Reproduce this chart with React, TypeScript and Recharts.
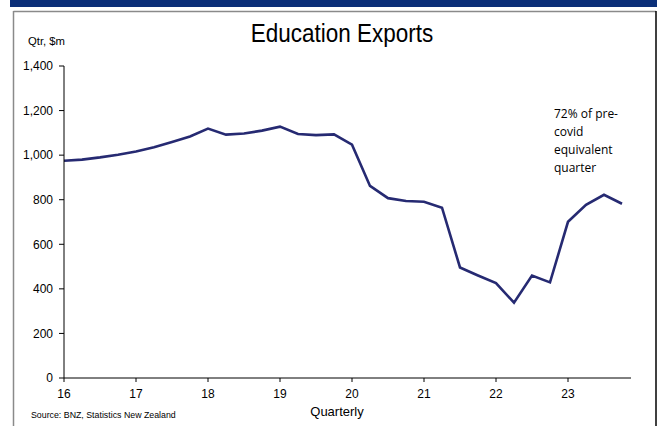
import React from "react";
import { LineChart, Line, XAxis, YAxis } from "recharts";

// quarterly education exports, $m
const periods = [
  "16Q1", "16Q2", "16Q3", "16Q4",
  "17Q1", "17Q2", "17Q3", "17Q4",
  "18Q1", "18Q2", "18Q3", "18Q4",
  "19Q1", "19Q2", "19Q3", "19Q4",
  "20Q1", "20Q2", "20Q3", "20Q4",
  "21Q1", "21Q2", "21Q3", "21Q4",
  "22Q1", "22Q2", "22Q3", "22Q4",
  "23Q1", "23Q2", "23Q3", "23Q4",
];
const exportsValue = [
  975, 980, 990, 1002,
  1016, 1035, 1059, 1084,
  1119, 1092, 1097, 1110,
  1128, 1095, 1090, 1093,
  1047, 862, 807, 794,
  791, 764, 496, 460,
  426, 338, 460, 429,
  701, 777, 822, 782,
];
const yearTicks = [16, 17, 18, 19, 20, 21, 22, 23];
const valueTicks = [0, 200, 400, 600, 800, 1000, 1200, 1400];
const noteLines = ["72% of pre-", "covid", "equivalent", "quarter"];

const data = periods.map((p, i) => ({
  x: Number(p.slice(0, 2)) + (Number(p.slice(3)) - 1) / 4,
  v: exportsValue[i],
}));

const FONT = "'Liberation Sans', Arial, sans-serif";
const LINE = "#262a72";

export default function App() {
  return (
    <div style={{ position: "absolute", left: 0, top: 0, width: 657, height: 426, background: "#fff", fontFamily: FONT }}>
      <LineChart width={657} height={426} data={data} margin={{ top: 66, right: 26, bottom: 18, left: 0 }}>
        <XAxis
          dataKey="x"
          type="number"
          domain={[16, 23.875]}
          ticks={yearTicks}
          allowDataOverflow
          height={30}
          tickSize={4}
          tickMargin={7}
          stroke="#000"
          tick={{ fill: "#000", fontSize: 12, fontFamily: FONT }}
        />
        <YAxis
          domain={[0, 1400]}
          ticks={valueTicks}
          width={64}
          tickSize={5}
          tickMargin={6}
          stroke="#000"
          tick={{ fill: "#000", fontSize: 12, fontFamily: FONT }}
          tickFormatter={(v: number) => v.toLocaleString("en-US")}
        />
        <Line type="linear" dataKey="v" stroke={LINE} strokeWidth={2.6} dot={false} isAnimationActive={false} />
      </LineChart>

      <svg width={657} height={426} style={{ position: "absolute", left: 0, top: 0, pointerEvents: "none" }}>
        <rect x={10} y={0} width={647} height={7} fill="#0b2f78" />
        <line x1={13.5} y1={11.5} x2={656} y2={11.5} stroke="#8a8a8a" strokeWidth={1.5} />
        <line x1={13.5} y1={11} x2={13.5} y2={426} stroke="#8a8a8a" strokeWidth={1.5} />
        <line x1={656} y1={11} x2={656} y2={426} stroke="#000" strokeWidth={1.5} />

        <text x={342} y={42} textAnchor="middle" fontSize={22.5} fill="#000" fontFamily={FONT}
          transform="translate(0,42) scale(1,1.18) translate(0,-42)">
          Education Exports
        </text>
        <text x={28} y={45.3} fontSize={11.3} fill="#000" fontFamily={FONT}>Qtr, $m</text>
        <text x={337} y={415.5} textAnchor="middle" fontSize={13} fill="#000" fontFamily={FONT}>Quarterly</text>
        <text x={31} y={418.3} fontSize={8.8} fill="#000" fontFamily={FONT}>Source: BNZ, Statistics New Zealand</text>

        {noteLines.map((t, i) => (
          <text key={t} x={554} y={118 + i * 18} fontSize={12} fill="#000" fontFamily="'Open Sans', sans-serif">
            {t}
          </text>
        ))}
      </svg>
    </div>
  );
}
